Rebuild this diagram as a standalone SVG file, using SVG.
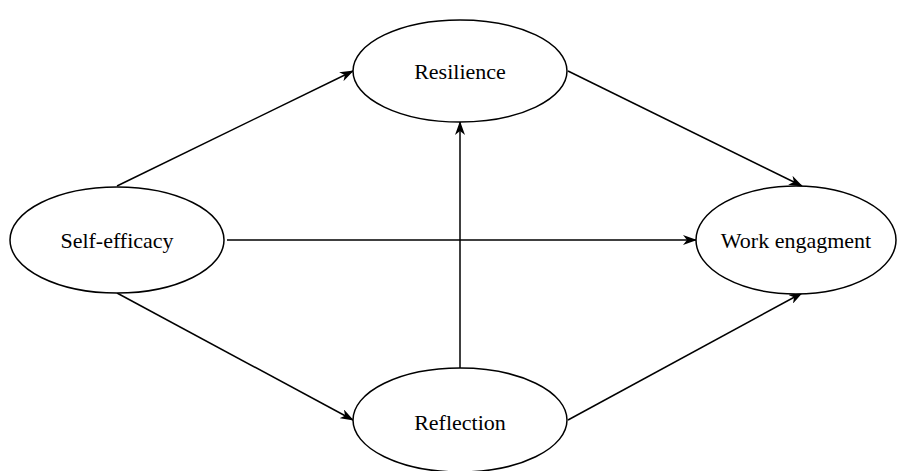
<svg xmlns="http://www.w3.org/2000/svg" width="899" height="471" viewBox="0 0 899 471">
<style>
.n{fill:#fff;stroke:#000;stroke-width:1.5}
.t{font-family:"Liberation Serif","Times New Roman",serif;font-size:22px;fill:#000;text-anchor:middle;dominant-baseline:central}
.e{stroke:#000;stroke-width:1.5;fill:none;marker-end:url(#a)}
</style>
<defs>
<marker id="a" viewBox="0 0 14 10" refX="13" refY="5" markerWidth="14" markerHeight="10" markerUnits="userSpaceOnUse" orient="auto">
<path d="M0,0 L14,5 L0,10 L4,5 Z" fill="#000"/>
</marker>
</defs>
<g id="edges">
<line class="e" x1="117" y1="186" x2="353" y2="71"/>
<line class="e" x1="227" y1="240" x2="696" y2="240"/>
<line class="e" x1="117" y1="293" x2="353" y2="420"/>
<line class="e" x1="460" y1="368" x2="460" y2="122"/>
<line class="e" x1="568" y1="71" x2="802" y2="186"/>
<line class="e" x1="568" y1="420" x2="802" y2="293"/>
</g>
<g id="self-efficacy"><ellipse class="n" cx="117" cy="240" rx="107" ry="53"/><text class="t" x="117" y="240">Self-efficacy</text></g>
<g id="resilience"><ellipse class="n" cx="460" cy="71" rx="107" ry="51"/><text class="t" x="460" y="71">Resilience</text></g>
<g id="reflection"><ellipse class="n" cx="460" cy="420" rx="107" ry="52"/><text class="t" x="460" y="422">Reflection</text></g>
<g id="work"><ellipse class="n" cx="796" cy="240" rx="100" ry="54"/><text class="t" x="796" y="240">Work engagment</text></g>
</svg>
